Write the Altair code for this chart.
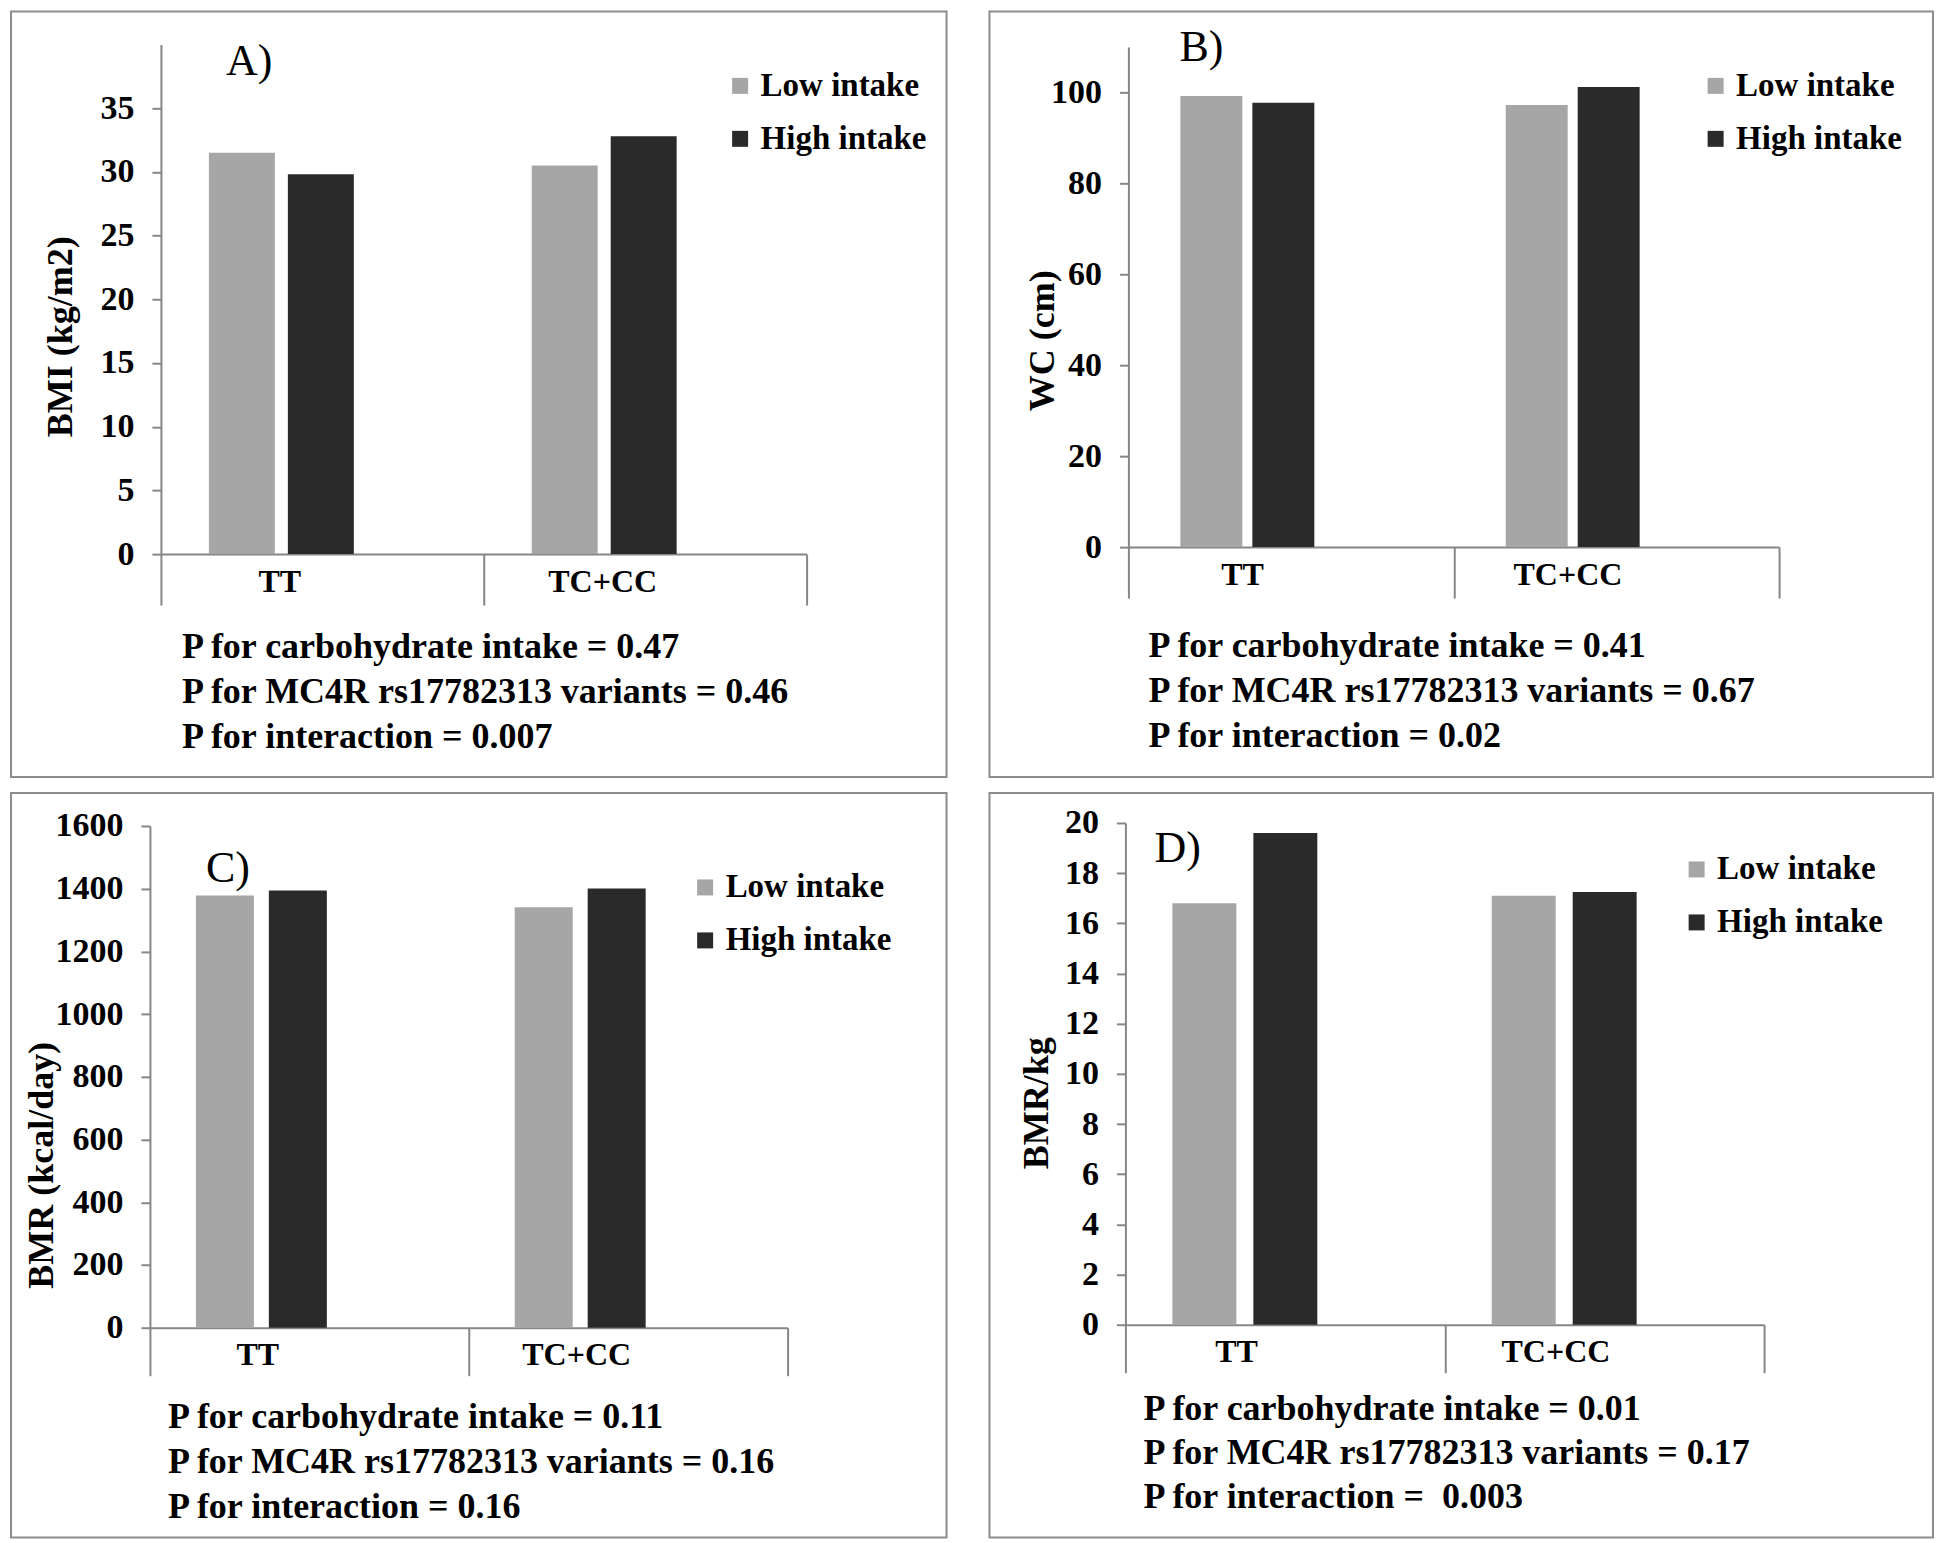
import altair as alt
import pandas as pd

# ---------------- data ----------------
GENOTYPES = ["TT", "TC+CC"]
INTAKES = ["Low intake", "High intake"]

BMI_LOW = [31.5, 30.5]
BMI_HIGH = [29.8, 32.8]
WC_LOW = [99.2, 97.2]
WC_HIGH = [97.7, 101.2]
BMR_LOW = [1378, 1341]
BMR_HIGH = [1394, 1401]
BMRKG_LOW = [16.8, 17.1]
BMRKG_HIGH = [19.6, 17.25]

BMI_TICKS = [0, 5, 10, 15, 20, 25, 30, 35]
WC_TICKS = [0, 20, 40, 60, 80, 100]
BMR_TICKS = [0, 200, 400, 600, 800, 1000, 1200, 1400, 1600]
BMRKG_TICKS = [0, 2, 4, 6, 8, 10, 12, 14, 16, 18, 20]

P_A = ["P for carbohydrate intake = 0.47",
       "P for MC4R rs17782313 variants = 0.46",
       "P for interaction = 0.007"]
P_B = ["P for carbohydrate intake = 0.41",
       "P for MC4R rs17782313 variants = 0.67",
       "P for interaction = 0.02"]
P_C = ["P for carbohydrate intake = 0.11",
       "P for MC4R rs17782313 variants = 0.16",
       "P for interaction = 0.16"]
P_D = ["P for carbohydrate intake = 0.01",
       "P for MC4R rs17782313 variants = 0.17",
       "P for interaction =\u00a0 0.003"]

COLORS = ["#a6a6a6", "#2a2a2a"]
FONT = "Liberation Serif"
GREY = "#868686"


def table(low, high):
    rows = []
    for i, g in enumerate(GENOTYPES):
        rows.append({"genotype": g, "intake": INTAKES[0], "value": low[i]})
        rows.append({"genotype": g, "intake": INTAKES[1], "value": high[i]})
    return pd.DataFrame(rows)


def panel(df, ytitle, ticks, ymax, letter, ptext, L):
    W, H = L["W"], L["H"]
    bars = alt.Chart(df).mark_bar().encode(
        x=alt.X("genotype:N", sort=GENOTYPES,
                scale=alt.Scale(range=[L["ax"], L["xend"]], paddingInner=0, paddingOuter=0),
                axis=alt.Axis(title=None, orient="bottom", offset=-(H - L["y0"]),
                              tickBand="extent", tickSize=L["tick"], tickColor=GREY, tickWidth=2,
                              domainColor=GREY, domainWidth=2, labelAngle=0,
                              labelPadding=-(L["tick"] - 12), labelOffset=L["lo"],
                              labelFont=FONT, labelFontSize=32, labelFontWeight="bold",
                              labelColor="black", grid=False)),
        xOffset=alt.XOffset("intake:N", sort=INTAKES,
                            scale=alt.Scale(range=[L["gs"], L["gs"] + L["gw"]],
                                            paddingInner=L["pi"], paddingOuter=0)),
        y=alt.Y("value:Q",
                scale=alt.Scale(domain=[0, ymax], range=[L["y0"], L["ytop"]], nice=False, zero=True),
                axis=alt.Axis(values=ticks, title=ytitle, offset=-L["ax"], orient="left",
                              format="d",
                              tickSize=9, tickColor=GREY, tickWidth=2,
                              domainColor=GREY, domainWidth=2, grid=False,
                              labelFont=FONT, labelFontSize=34, labelFontWeight="bold",
                              labelColor="black", labelPadding=18, labelOverlap=False,
                              titleFont=FONT, titleFontSize=36, titleFontWeight="bold",
                              titleColor="black", titleAngle=270, titleAlign="center",
                              titleBaseline="middle", titleX=L["tx"], titleY=L["ty"])),
        color=alt.Color("intake:N", sort=INTAKES,
                        scale=alt.Scale(domain=INTAKES, range=COLORS),
                        legend=alt.Legend(orient="none", legendX=L["lx"], legendY=L["ly"],
                                          title=None, symbolType="square", symbolSize=256,
                                          symbolStrokeWidth=0, labelFont=FONT, labelFontSize=33,
                                          labelFontWeight="bold", labelColor="black",
                                          labelLimit=0, rowPadding=19, labelOffset=4,
                                          padding=0)),
    )
    one = pd.DataFrame({"k": [0]})
    ptxt = alt.Chart(one).mark_text(align="left", baseline="alphabetic", font=FONT,
                                    fontSize=36, fontWeight="bold", lineHeight=L["lh"],
                                    color="black").encode(
        x=alt.value(L["px"]), y=alt.value(L["py"]), text=alt.value(ptext))
    lab = alt.Chart(one).mark_text(align="left", baseline="alphabetic", font=FONT,
                                   fontSize=44, color="black").encode(
        x=alt.value(L["lbx"]), y=alt.value(L["lby"]), text=alt.value(letter))
    return alt.layer(bars, ptxt, lab).properties(width=W, height=H)


LA = dict(W=936, H=766, ax=150, xend=796, y0=543, ytop=33, tick=51, lo=-43,
          gs=48, gw=145, pi=0.165, tx=-100, ty=325, lx=713, ly=58,
          px=171, py=647, lh=45, lbx=215, lby=64)
LB = dict(W=944, H=766, ax=139, xend=790, y0=536, ytop=35.5, tick=51, lo=-49,
          gs=52, gw=134, pi=0.139, tx=-86, ty=329, lx=710, ly=58,
          px=159, py=646, lh=45, lbx=190, lby=50)
LC = dict(W=936, H=745, ax=139, xend=777, y0=535, ytop=33, tick=48, lo=-52,
          gs=46, gw=131, pi=0.205, tx=-108, ty=372, lx=678, ly=78,
          px=157, py=635, lh=45, lbx=195, lby=89)
LD = dict(W=944, H=745, ax=136, xend=775, y0=532, ytop=30, tick=48, lo=-49,
          gs=47, gw=145, pi=0.21, tx=-89, ty=310, lx=691, ly=60,
          px=154, py=627, lh=44, lbx=165, lby=69)

pA = panel(table(BMI_LOW, BMI_HIGH), "BMI (kg/m2)", BMI_TICKS, 40, "A)", P_A, LA)
pB = panel(table(WC_LOW, WC_HIGH), "WC (cm)", WC_TICKS, 110, "B)", P_B, LB)
pC = panel(table(BMR_LOW, BMR_HIGH), "BMR (kcal/day)", BMR_TICKS, 1600, "C)", P_C, LC)
pD = panel(table(BMRKG_LOW, BMRKG_HIGH), "BMR/kg", BMRKG_TICKS, 20, "D)", P_D, LD)

RES = dict(x="independent", y="independent", color="independent", xOffset="independent")

row1 = alt.hconcat(pA, pB, spacing=41).resolve_scale(**RES).resolve_legend(color="independent")
row2 = alt.hconcat(pC, pD, spacing=41).resolve_scale(**RES).resolve_legend(color="independent")

chart = alt.vconcat(row1, row2, spacing=14).resolve_scale(**RES).resolve_legend(
    color="independent").properties(padding=2, background="white").configure_view(
    stroke="#8c8c8c", strokeWidth=2)

chart.save("out.html", embed_options={"renderer": "svg", "actions": False})
